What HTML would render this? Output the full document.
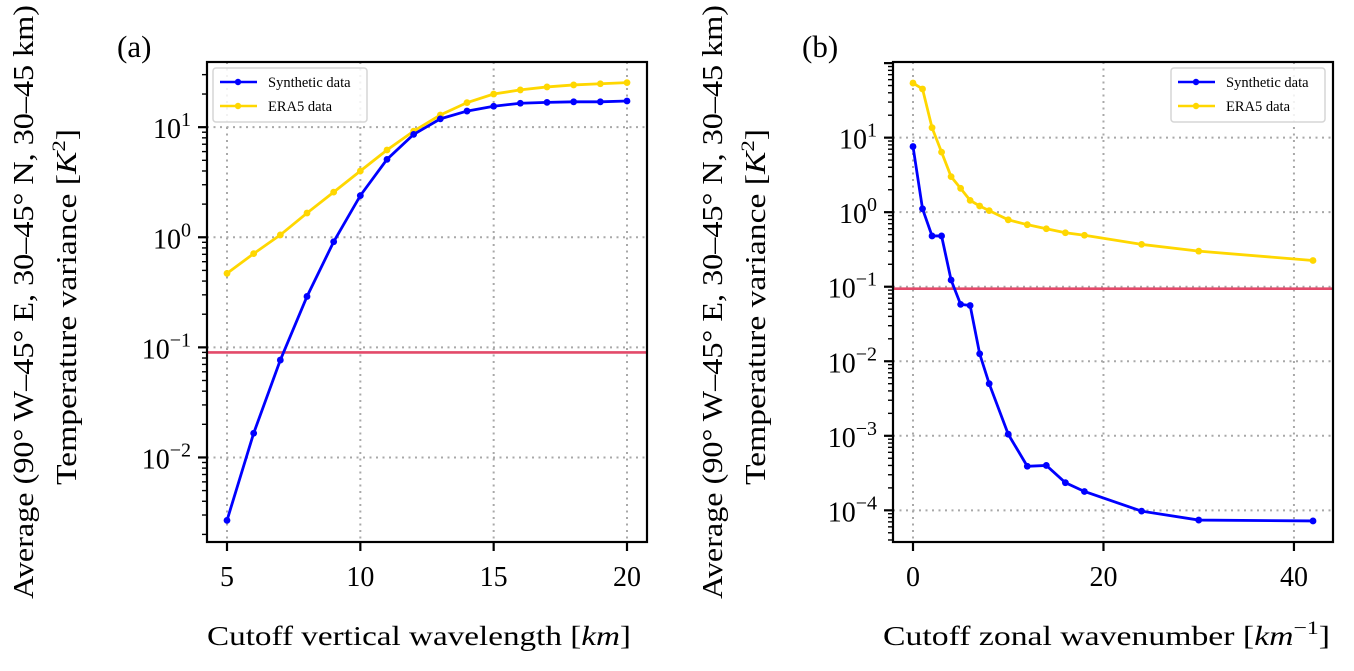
<!DOCTYPE html>
<html><head><meta charset="utf-8"><style>
html,body{margin:0;padding:0;background:#fff}
svg{display:block}
text{font-family:"Liberation Serif",serif;fill:#000}
</style></head><body>
<svg id="chart" width="1354" height="671" viewBox="0 0 1354 671" xmlns="http://www.w3.org/2000/svg"></svg>
<script>
// Panel (a) data
const aX = [5,6,7,8,9,10,11,12,13,14,15,16,17,18,19,20];
const aSynthetic = [0.00268,0.0166,0.0767,0.29,0.91,2.39,5.1,8.6,11.9,14,15.5,16.5,16.8,17,17,17.3];
const aEra5 = [0.47,0.71,1.05,1.66,2.57,4.0,6.2,9.2,12.9,16.7,20,21.8,23.2,24.2,24.8,25.4];
const aXTicks = [5,10,15,20];
const aYTicks = [-2,-1,0,1];
// Panel (b) data
const bX = [0,1,2,3,4,5,6,7,8,10,12,14,16,18,24,30,42];
const bSynthetic = [7.6,1.11,0.48,0.48,0.123,0.058,0.056,0.0126,0.005,0.00105,0.00039,0.0004,0.000235,0.000179,0.0000975,0.000074,0.000072];
const bEra5 = [54,45,13.6,6.4,3.0,2.09,1.44,1.21,1.05,0.79,0.68,0.6,0.53,0.49,0.37,0.3,0.225];
const bXTicks = [0,20,40];
const bYTicks = [-4,-3,-2,-1,0,1];
const threshold = [0.09,0.094];

const NS='http://www.w3.org/2000/svg';
const svg=document.getElementById('chart');
function mk(tag,attrs,parent){const e=document.createElementNS(NS,tag);for(const k in attrs)e.setAttribute(k,attrs[k]);(parent||svg).appendChild(e);return e;}

function panel(cfg){
  const g=mk('g',{});
  
  
  const {L,R,T,B,xmin,xmax,lmin,lmax}=cfg;
  const sx=v=>L+(v-xmin)/(xmax-xmin)*(R-L);
  const sy=v=>B-(Math.log10(v)-lmin)/(lmax-lmin)*(B-T);
  const syl=l=>B-(l-lmin)/(lmax-lmin)*(B-T);
  const clip='clip-'+cfg.name;
  const cp=mk('clipPath',{id:clip},g);mk('rect',{x:L,y:T,width:R-L,height:B-T},cp);
  cfg.xticks.forEach(t=>{const l=mk('line',{x1:sx(t),x2:sx(t),y1:T,y2:B,stroke:'#a8a8a8','stroke-width':2,'stroke-dasharray':'2,4.5'},g);
    
    });
  cfg.yticks.forEach(t=>{const l=mk('line',{x1:L,x2:R,y1:syl(t),y2:syl(t),stroke:'#a8a8a8','stroke-width':2,'stroke-dasharray':'2,4.5'},g);
    
    });
  const th=mk('line',{x1:L,x2:R,y1:sy(cfg.th),y2:sy(cfg.th),stroke:'#e34a6a','stroke-width':2.6},g);
  
  
  const series=[{ys:cfg.era,c:'#ffd700',n:'era5-series'},{ys:cfg.syn,c:'#0000ff',n:'synthetic-series'}];
  series.forEach(s=>{
    const pts=cfg.xs.map((x,i)=>sx(x)+','+sy(s.ys[i])).join(' ');
    const pl=mk('polyline',{points:pts,fill:'none',stroke:s.c,'stroke-width':2.8,'clip-path':'url(#'+clip+')'},g);
    
    
    cfg.xs.forEach((x,i)=>{const c=mk('circle',{cx:sx(x),cy:sy(s.ys[i]),r:3.4,fill:s.c},g);
      
      });
  });
  const fr=mk('rect',{x:L,y:T,width:R-L,height:B-T,fill:'none',stroke:'#000','stroke-width':2.2},g);
  
  
  cfg.xticks.forEach(t=>{mk('line',{x1:sx(t),x2:sx(t),y1:B,y2:B+9,stroke:'#000','stroke-width':2.2},g);
    const tx=mk('text',{x:sx(t),y:B+44,'font-size':28,'text-anchor':'middle'},g);tx.textContent=t;
    
    });
  for(let d=Math.floor(lmin);d<=Math.ceil(lmax);d++){
    for(let m=1;m<10;m++){const l=d+Math.log10(m);if(l<lmin||l>lmax)continue;
      mk('line',{x1:L,x2:L-(m===1?9:5),y1:syl(l),y2:syl(l),stroke:'#000','stroke-width':m===1?2.2:1.4},g);}
  }
  cfg.yticks.forEach(t=>{const tx=mk('text',{x:L-16,y:syl(t)+11,'font-size':28,'text-anchor':'end'},g);
    
    
    const a=document.createElementNS(NS,'tspan');a.textContent='10';tx.appendChild(a);
    const b=document.createElementNS(NS,'tspan');b.setAttribute('dy','-12');b.setAttribute('font-size','20');b.textContent=(t<0?'\u2212':'')+Math.abs(t);tx.appendChild(b);});
  const pl=mk('text',{x:cfg.plx,y:57,'font-size':31},g);pl.textContent=cfg.pl;
  
  
  const xt=mk('text',{x:cfg.xtx,y:645,'font-size':27,textLength:cfg.xtw,lengthAdjust:'spacingAndGlyphs'},g);
  xt.innerHTML=cfg.xtitle;
  
  
  const y1=mk('text',{x:0,y:0,'font-size':28,'text-anchor':'middle',textLength:594,lengthAdjust:'spacingAndGlyphs',transform:'translate('+(cfg.ylx+9)+',302) rotate(-90)'},g);
  y1.textContent='Average (90\u00b0 W\u201345\u00b0 E, 30\u201345\u00b0 N, 30\u201345 km)';
  
  
  const y2=mk('text',{x:0,y:0,'font-size':28,'text-anchor':'middle',textLength:356,lengthAdjust:'spacingAndGlyphs',transform:'translate('+(cfg.ylx+52)+',307) rotate(-90)'},g);
  y2.innerHTML='Temperature variance [<tspan font-style="italic">K</tspan><tspan dy="-11" font-size="19">2</tspan><tspan dy="11">]</tspan>';
  
  
  const lg=mk('g',{},g);
  
  
  mk('rect',{x:cfg.lgx,y:68,width:154,height:54,rx:3,fill:'#fff','fill-opacity':0.85,stroke:'#d5d5d5','stroke-width':1.5},lg);
  [['Synthetic data','#0000ff',82],['ERA5 data','#ffd700',106]].forEach(e=>{
    const eg=mk('g',{},lg);
    
    
    mk('line',{x1:cfg.lgx+7,x2:cfg.lgx+44,y1:e[2],y2:e[2],stroke:e[1],'stroke-width':2.6},eg);
    mk('circle',{cx:cfg.lgx+25,cy:e[2],r:3.2,fill:e[1]},eg);
    const t=mk('text',{x:cfg.lgx+55,y:e[2]+5,'font-size':14.5},eg);t.textContent=e[0];});
}
panel({name:'panel-a',L:207,R:647,T:62,B:542,xmin:4.25,xmax:20.75,lmin:-2.768,lmax:1.592,
  xs:aX,syn:aSynthetic,era:aEra5,xticks:aXTicks,yticks:aYTicks,th:threshold[0],
  pl:'(a)',plx:117,xtx:207,xtw:424,xtitle:'Cutoff vertical wavelength [<tspan font-style="italic">km</tspan>]',ylx:24,lgx:213});
panel({name:'panel-b',L:893,R:1333,T:62,B:542,xmin:-2.1,xmax:44.1,lmin:-4.425,lmax:2.015,
  xs:bX,syn:bSynthetic,era:bEra5,xticks:bXTicks,yticks:bYTicks,th:threshold[1],
  pl:'(b)',plx:802,xtx:883,xtw:447,xtitle:'Cutoff zonal wavenumber [<tspan font-style="italic">km</tspan><tspan dy="-11" font-size="19">\u22121</tspan><tspan dy="11">]</tspan>',ylx:713,lgx:1171});
</script>
</body></html>
